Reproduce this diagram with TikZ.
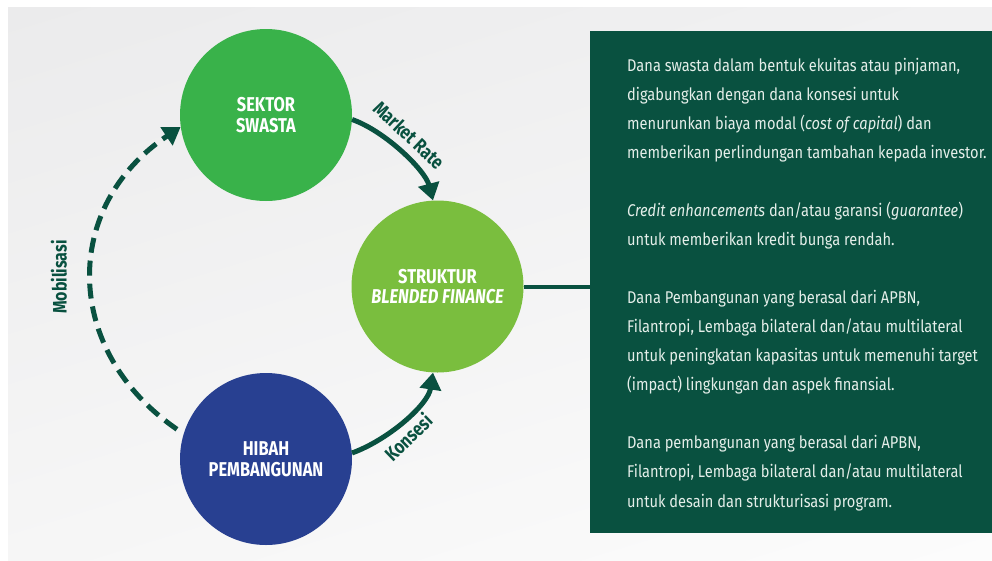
\documentclass[tikz,border=0pt]{standalone}
\usepackage{fontspec}
\setmainfont{Fira Sans}[FakeStretch=0.86]
\newfontfamily\condb{Fira Sans}[FakeStretch=0.82]
\usetikzlibrary{arrows.meta,shapes.geometric,shadings}
\definecolor{swgreen}{RGB}{57,178,74}
\definecolor{bfgreen}{RGB}{122,190,62}
\definecolor{hbblue}{RGB}{40,64,145}
\definecolor{dkgreen}{RGB}{9,81,64}
\definecolor{boxtext}{RGB}{228,238,233}
\definecolor{bgA}{RGB}{235,235,236}
\definecolor{bgB}{RGB}{241,241,242}
\definecolor{bgC}{RGB}{246,246,246}
\definecolor{bgD}{RGB}{252,252,252}
\tikzset{
  blob/.style={circle, minimum size=172pt, inner sep=0pt, align=center, text=white,
    font=\condb\bfseries\fontsize{20}{20.5}\selectfont},
  flowarrow/.style={draw=dkgreen, line width=5pt, -{Triangle[length=17pt,width=21pt]}},
  lbl/.style={text=dkgreen, inner sep=0pt, font=\condb\bfseries\fontsize{19.5}{20}\selectfont},
  bodyline/.style={anchor=base west, inner sep=0pt, text=boxtext, font=\fontsize{17}{29}\selectfont},
  panelbox/.style={fill=dkgreen, draw=none, inner sep=0pt, anchor=north west}
}
\begin{document}
\begin{tikzpicture}[x=1pt,y=-1pt]
\useasboundingbox (0,0) rectangle (992,560);
\fill[white] (0,0) rectangle (992,560);
\shade[upper left=bgA, upper right=bgB, lower left=bgC, lower right=bgD] (8,7) rectangle (992,560);

% panel
\node[panelbox, minimum width=402pt, minimum height=502pt] (panel) at (590,31) {};

% circles
\node[blob, fill=swgreen] (sw) at (266,115) {SEKTOR\\SWASTA};
\node[blob, fill=bfgreen] (bf) at (437.5,286.5) {STRUKTUR\\\itshape BLENDED FINANCE};
\node[blob, fill=hbblue] (hb) at (266,459) {HIBAH\\PEMBANGUNAN};

% connector to panel
\draw[draw=dkgreen, line width=4pt] (bf.east) -- (bf.east -| panel.west);

% arrows
\draw[flowarrow] (sw.-3) .. controls (385,131) and (425,170) .. (bf.93);
\draw[flowarrow] (hb.4) .. controls (388,440) and (428,405) .. (bf.-93);
\draw[flowarrow, dash pattern=on 15pt off 8pt, shorten <=8pt] (hb.163) .. controls (62,350) and (62,206) .. (sw.188);

% labels
\node[lbl, rotate=-43] (mr) at (409,135) {Market Rate};
\node[lbl, rotate=44] (ks) at (408,437) {Konsesi};
\node[lbl, rotate=90] (mb) at (59,277) {Mobilisasi};

% panel text
\node[bodyline] (t0) at (627,71.0) {Dana swasta dalam bentuk ekuitas atau pinjaman,};
\node[bodyline] (t1) at (627,100.07) {digabungkan dengan dana konsesi untuk};
\node[bodyline] (t2) at (627,129.14) {menurunkan biaya modal (\textit{cost of capital}) dan};
\node[bodyline] (t3) at (627,158.21) {memberikan perlindungan tambahan kepada investor.};
\node[bodyline] (t5) at (627,216.35) {\textit{Credit enhancements} dan/atau garansi (\textit{guarantee})};
\node[bodyline] (t6) at (627,245.42) {untuk memberikan kredit bunga rendah.};
\node[bodyline] (t8) at (627,303.56) {Dana Pembangunan yang berasal dari APBN,};
\node[bodyline] (t9) at (627,332.63) {Filantropi, Lembaga bilateral dan/atau multilateral};
\node[bodyline] (t10) at (627,361.7) {untuk peningkatan kapasitas untuk memenuhi target};
\node[bodyline] (t11) at (627,390.77) {(impact) lingkungan dan aspek finansial.};
\node[bodyline] (t13) at (627,448.91) {Dana pembangunan yang berasal dari APBN,};
\node[bodyline] (t14) at (627,477.98) {Filantropi, Lembaga bilateral dan/atau multilateral};
\node[bodyline] (t15) at (627,507.05) {untuk desain dan strukturisasi program.};
\end{tikzpicture}
\end{document}
